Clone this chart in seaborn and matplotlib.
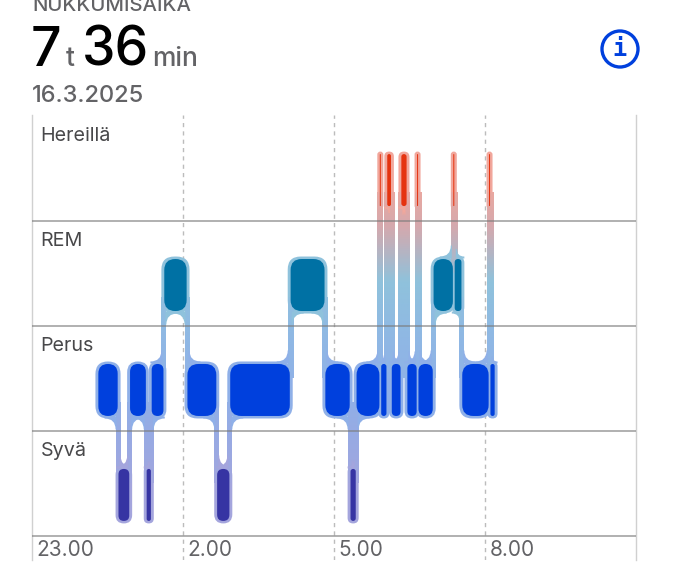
#!/usr/bin/env python3

import numpy as np
import matplotlib as mpl
mpl.use('Agg')
from matplotlib import pyplot as plt
from matplotlib.patches import FancyBboxPatch, Circle, PathPatch
from matplotlib.path import Path
import seaborn as sns

sns.set_theme(style='white')
plt.rcParams['font.family'] = ['Inter', 'DejaVu Sans']

# hours after 23.00
edges = [1.31, 1.71, 1.94, 2.27, 2.37, 2.62, 3.08, 3.67, 3.93, 5.13, 5.82, 6.32, 6.44, 6.91,
         6.93, 7.05, 7.14, 7.33, 7.45, 7.65, 7.67, 7.97, 8.37, 8.39, 8.54, 9.08, 9.10, 9.20]
stage = [1, 0, 1, 0, 1, 2, 1, 0, 1, 2, 1, 0, 1,
         3, 1, 3, 1, 3, 1, 3, 1, 2, 3, 2, 1, 3, 1]
stage_names = ['Syvä', 'Perus', 'REM', 'Hereillä']
stage_colors = ['#3634a3', '#0040dd', '#0071a4', '#e5330f']
# halo colours from the bottom of the axes to the top
halo_colors = ['#a6a4dc', '#a6a4dc', '#9aa9e2', '#8fb0e8', '#8fb8e4', '#8fc2dc', '#d4a9ae', '#f6a798', '#f6a798']
tick_hours = [0, 3, 6, 9]
tick_labels = ['23.00', '2.00', '5.00', '8.00']

W, H = 675, 578
fig = plt.figure(figsize=(W / 100, H / 100), dpi=100)
ax = fig.add_axes([32 / W, 1 - 560 / H, 604 / W, 445 / H])
ax.set_xlim(0, 12)
ax.set_ylim(-0.62, 3.62)
ax.set_xticks([])
ax.set_yticks([])
sns.despine(ax=ax, top=True, bottom=True, right=False)
for side in ['left', 'right']:
    ax.spines[side].set_color('#d0d0d0')
    ax.spines[side].set_linewidth(1)

px = 12 / 604
py = 4.24 / 445
half_h = 26 * py
halo = 2.5
conn_w = 2.5 * px

cmap = sns.blend_palette(halo_colors, n_colors=256, as_cmap=True)


def level_color(y):
    return cmap((y + 0.62) / 4.24)


def rounded(x0, x1, y0, y1, r, **kw):
    r = min(r, (x1 - x0) / 2 / px) * px
    return FancyBboxPatch((x0, y0), x1 - x0, y1 - y0, boxstyle=f'round,pad=0,rounding_size={r}',
                          mutation_aspect=py / px, linewidth=0, **kw)


def flare(xs, ye, d, v, bar):
    # concave fillet from the stem onto the edge of a bar, skipped for hairline bars
    width = (edges[bar + 1] - edges[bar]) / px
    if width < 4:
        return
    fx = min(11, width) * px
    fy = min(11, width) * py
    verts = [(xs - d * px, ye - v * 2 * py), (xs + d * fx, ye - v * 2 * py), (xs + d * fx, ye), (xs, ye),
             (xs, ye + v * fy), (xs - d * px, ye + v * fy), (xs - d * px, ye)]
    codes = [Path.MOVETO, Path.LINETO, Path.LINETO, Path.CURVE3, Path.CURVE3, Path.LINETO, Path.CLOSEPOLY]
    ax.add_patch(PathPatch(Path(verts, codes), fc=level_color(stage[bar]), lw=0, zorder=2))


for x in tick_hours[1:]:
    ax.axvline(x, color='#bcbcbc', lw=1, ls=(0, (3, 3)), zorder=1)

# halos
for i, s in enumerate(stage):
    x0, x1 = edges[i], edges[i + 1]
    ax.add_patch(rounded(x0 - halo * px, x1 + halo * px, s - half_h - halo * py, s + half_h + halo * py, 13,
                         fc=level_color(s), zorder=2))

# stems between stages, running on into the bars they join
for i in range(len(stage) - 1):
    x = edges[i + 1]
    a, b = stage[i], stage[i + 1]
    low, high = min(a, b), max(a, b)
    yl = low + half_h - 14 * py
    yu = high - half_h + 14 * py
    ys = np.linspace(yl, yu, 128).reshape(-1, 1)
    ax.imshow((ys + 0.62) / 4.24, cmap=cmap, vmin=0, vmax=1, origin='lower', aspect='auto',
              extent=(x - conn_w, x + conn_w, yl, yu), zorder=2, interpolation='bilinear')
    sgn = -1 if a < b else 1   # side the lower bar is on
    low_bar, high_bar = (i, i + 1) if a < b else (i + 1, i)
    flare(x + sgn * conn_w, low + half_h + halo * py, sgn, 1, low_bar)
    flare(x - sgn * conn_w, high - half_h - halo * py, -sgn, -1, high_bar)
ax.set_xlim(0, 12)
ax.set_ylim(-0.62, 3.62)

ax.hlines([-0.39, 0.61, 1.61, 2.61], 0, 12, color='#7c7c7c', lw=1.2, alpha=0.7, zorder=3)

# solid bars
for i, s in enumerate(stage):
    x0, x1 = edges[i], edges[i + 1]
    if x1 - x0 > 3 * px:
        x0, x1 = x0 + 0.4 * px, x1 - 0.4 * px
    ax.add_patch(rounded(x0, x1, s - half_h, s + half_h, 11, fc=stage_colors[s], zorder=4))

for s, name in enumerate(stage_names):
    ax.text(8.5 * px, s + 0.42, name, fontsize=14.2, color='#48484a', va='center', ha='left', zorder=5)
for x, label in zip(tick_hours, tick_labels):
    ax.text(x + 4.5 * px, -0.525, label, fontsize=15, color='#636366', va='center', ha='left')

# header, placed in picture pixels
head = fig.add_axes([0, 0, 1, 1], facecolor='none')
head.set_xlim(0, W)
head.set_ylim(H, 0)
head.axis('off')
head.text(32, 11, 'NUKKUMISAIKA', fontsize=14.7, fontweight='medium', color='#636366', va='baseline', clip_on=False)
head.text(31, 66, '7', fontsize=38.5, fontweight='medium', color='black', va='baseline')
head.text(66, 66, 't', fontsize=19, fontweight='medium', color='#636366', va='baseline')
head.text(82, 66, '36', fontsize=38.5, fontweight='medium', color='black', va='baseline')
head.text(152, 66, 'min', fontsize=19, fontweight='medium', color='#636366', va='baseline')
head.text(32, 102, '16.3.2025', fontsize=17, fontweight='medium', color='#636366', va='baseline')
head.add_patch(Circle((620, 49), 18, fill=False, ec='#0040dd', lw=2.4))
head.text(620, 49.5, 'i', fontsize=17, fontweight='bold', color='#0040dd', family='DejaVu Sans Mono', ha='center', va='center')

fig.savefig('out.png', dpi=100)
